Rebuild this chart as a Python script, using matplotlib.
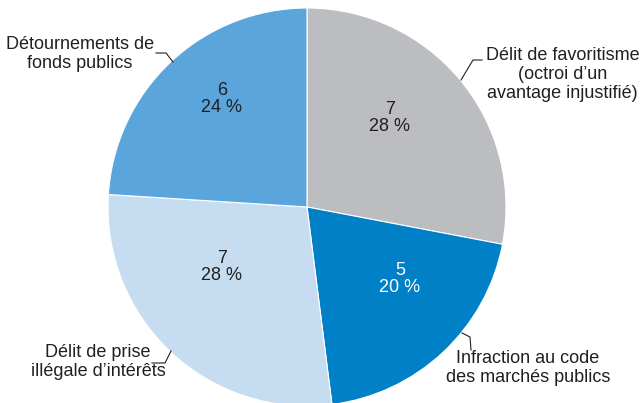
import matplotlib
matplotlib.use("Agg")
import matplotlib.pyplot as plt
from matplotlib import font_manager

categories = [
    "Délit de favoritisme\n(octroi d\u2019un\navantage injustifié)",
    "Infraction au code\ndes marchés publics",
    "Délit de prise\nillégale d\u2019intérêts",
    "Détournements de\nfonds publics",
]
counts = [7, 5, 7, 6]
shares = [28, 20, 28, 24]
colors = ["#BCBDC0", "#0080C6", "#C6DCF0", "#5AA5DB"]
value_colors = ["#231F20", "white", "#231F20", "#231F20"]

names = {f.name for f in font_manager.fontManager.ttflist}
family = ["Liberation Sans Narrow", "DejaVu Sans"] if "Liberation Sans Narrow" in names else ["Liberation Sans", "DejaVu Sans"]
plt.rcParams["font.family"] = family

W, H = 644, 403
fig = plt.figure(figsize=(W / 100, H / 100), dpi=100)
ax = fig.add_axes([0, 0, 1, 1])
ax.set_xlim(0, W)
ax.set_ylim(0, H)
ax.set_aspect("equal")
ax.axis("off")

cx, cy, r = 307, H - 207, 199
wedges, _ = ax.pie(
    counts, colors=colors, startangle=90, counterclock=False,
    center=(cx, cy), radius=r, frame=True,
    wedgeprops=dict(edgecolor="white", linewidth=0.8),
)
ax.set_xlim(0, W)
ax.set_ylim(0, H)
ax.axis("off")

# value / share labels inside the slices
inner_pos = [(390, 118), (400, 279), (222, 267), (222, 99)]
for (x, y), n, p, c in zip(inner_pos, counts, shares, value_colors):
    ax.text(x, H - y, f"{n}\n{p} %", ha="center", va="center", fontsize=13,
            color=c, linespacing=1.05)

fs = 13
tc = "#231F20"
# Délit de favoritisme
ax.plot([461, 473, 482], [H - 80, H - 60, H - 60], color=tc, lw=0.8)
ax.text(486, H - 58, categories[0], ha="left", va="center", fontsize=fs,
        color=tc, linespacing=1.15, multialignment="center")
ax.texts[-1].set_va("top")
ax.texts[-1].set_position((486, H - 47))
# Infraction au code
ax.plot([462, 470, 471], [H - 333, H - 337, H - 350], color=tc, lw=0.8)
ax.text(528, H - 350, categories[1], ha="center", va="top", fontsize=fs,
        color=tc, linespacing=1.15, multialignment="center")
# Délit de prise illégale
ax.plot([152, 165, 171], [H - 363, H - 363, H - 351], color=tc, lw=0.8)
ax.text(98, H - 344, categories[2], ha="center", va="top", fontsize=fs,
        color=tc, linespacing=1.15, multialignment="center")
# Détournements
ax.plot([156, 166, 173], [H - 53, H - 53, H - 62], color=tc, lw=0.8)
ax.text(80, H - 36, categories[3], ha="center", va="top", fontsize=fs,
        color=tc, linespacing=1.15, multialignment="center")

fig.savefig("out.png", dpi=100)
